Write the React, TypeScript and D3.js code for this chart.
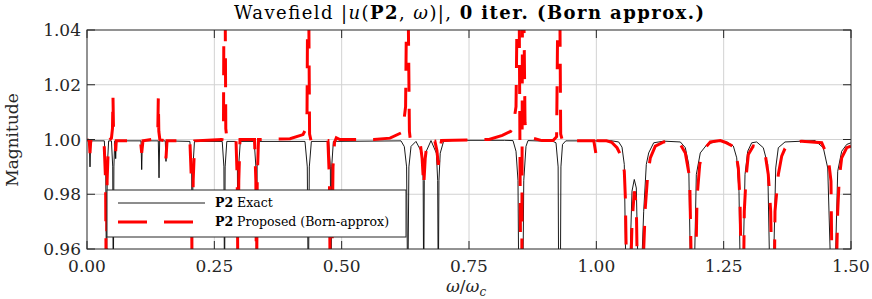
import React, { useEffect, useRef } from 'react'
import * as d3 from 'd3'

const xTicks = [0, 0.25, 0.5, 0.75, 1, 1.25, 1.5]
const yTicks = [0.96, 0.98, 1.0, 1.02, 1.04]
const xTickLabels = ['0.00', '0.25', '0.50', '0.75', '1.00', '1.25', '1.50']
const yTickLabels = ['0.96', '0.98', '1.00', '1.02', '1.04']

// exact |u(P2,w)|, pairs of [w/wc, magnitude]
const exact: [number, number][] = [
  [0, 1.0], [0.0045, 0.9995], [0.0059, 0.99], [0.0073, 0.9995],
  [0.034, 0.9995], [0.0368, 0.99], [0.0383, 0.94], [0.0398, 0.99], [0.0425, 0.9995],
  [0.048, 0.9995], [0.0505, 0.99], [0.0516, 0.94], [0.0528, 0.99], [0.0545, 0.9995],
  [0.0555, 0.9995], [0.0563, 0.993], [0.0573, 0.9995],
  [0.106, 0.9995], [0.1074, 0.989], [0.1088, 0.9995],
  [0.14, 0.9995], [0.1414, 0.986], [0.1427, 0.9995],
  [0.1537, 0.9995], [0.1551, 0.992], [0.1565, 0.9995],
  [0.202, 0.9993], [0.2055, 0.99], [0.2067, 0.94], [0.208, 0.99], [0.211, 0.9993],
  [0.2655, 0.9993], [0.2688, 0.99], [0.27, 0.94], [0.2712, 0.99], [0.2745, 0.9993],
  [0.292, 0.9993], [0.2953, 0.99], [0.2965, 0.94], [0.2977, 0.99], [0.301, 0.9993],
  [0.3283, 0.9993], [0.3316, 0.99], [0.3328, 0.94], [0.334, 0.99], [0.3373, 0.9993],
  [0.428, 0.9993], [0.4325, 0.99], [0.4345, 0.94], [0.4365, 0.99], [0.4405, 0.9993],
  [0.4745, 0.9993], [0.4778, 0.99], [0.4791, 0.94], [0.4804, 0.99], [0.4837, 0.9993],
  [0.6165, 0.9995], [0.623, 0.9974], [0.6275, 0.99], [0.6297, 0.94], [0.632, 0.99], [0.6362, 0.9975],
  [0.6459, 0.9993], [0.658, 0.995], [0.66, 0.985], [0.6611, 0.94], [0.6622, 0.985], [0.6645, 0.995],
  [0.6754, 0.9996], [0.686, 0.995], [0.6885, 0.985], [0.6897, 0.94], [0.691, 0.985], [0.6935, 0.995],
  [0.7, 0.9993], [0.72, 0.9997],
  [0.82, 0.9997], [0.8364, 0.9996], [0.8423, 0.9957], [0.8462, 0.985], [0.848, 0.94],
  [0.8555, 0.94], [0.8575, 0.985], [0.8619, 0.9975], [0.8658, 0.9996],
  [0.915, 0.9993], [0.9208, 0.9988], [0.925, 0.99], [0.9262, 0.94], [0.9292, 0.94], [0.9305, 0.99],
  [0.9336, 0.9982], [0.94, 0.9995],
  [1.0013, 0.9995], [1.0274, 0.9996], [1.0439, 0.9991], [1.0504, 0.9972], [1.0549, 0.9909],
  [1.0588, 0.94], [1.0635, 0.94], [1.07, 0.9811], [1.0745, 0.9854], [1.0785, 0.9823],
  [1.0832, 0.94], [1.0863, 0.94], [1.093, 0.9738], [1.0981, 0.9909], [1.1028, 0.9951],
  [1.1126, 0.9988], [1.1323, 0.9994], [1.1649, 0.9991], [1.1747, 0.997], [1.1814, 0.9909],
  [1.1859, 0.94], [1.1912, 0.94], [1.1963, 0.9872], [1.2041, 0.9951], [1.2173, 0.9982],
  [1.2369, 0.9994], [1.2566, 0.9991], [1.269, 0.9976], [1.2756, 0.9933], [1.2801, 0.9811],
  [1.2835, 0.94], [1.2866, 0.94], [1.2919, 0.9872], [1.2972, 0.9957], [1.305, 0.9988],
  [1.3148, 0.9991], [1.3278, 0.997], [1.3364, 0.9909], [1.3416, 0.94], [1.3463, 0.94],
  [1.3522, 0.9896], [1.3573, 0.997], [1.3704, 0.9991], [1.4293, 0.9996], [1.4456, 0.997],
  [1.4543, 0.9896], [1.4621, 0.94], [1.4672, 0.94], [1.4739, 0.9884], [1.4817, 0.9957],
  [1.4916, 0.9982], [1.5, 0.9988],
]

// proposed (Born approx.) |u(P2,w)|
const proposed: [number, number][] = [
  [0, 1.0], [0.0045, 0.9995], [0.0059, 0.995], [0.0073, 0.9995],
  [0.0334, 0.9995], [0.0365, 0.985], [0.0379, 0.94], [0.0395, 0.985], [0.0422, 0.9995],
  [0.048, 1.0005], [0.05, 1.004], [0.051, 1.0158], [0.052, 1.004], [0.0535, 1.0],
  [0.0555, 0.9995], [0.0563, 0.9957], [0.0575, 0.9995],
  [0.105, 0.9995], [0.1074, 0.9951], [0.1099, 0.9995],
  [0.137, 1.0003], [0.139, 1.003], [0.14, 1.0152], [0.141, 1.003], [0.143, 1.0],
  [0.1531, 0.9995], [0.1551, 0.9931], [0.1571, 0.9995],
  [0.202, 0.9995], [0.205, 0.985], [0.2067, 0.94], [0.2085, 0.985], [0.2115, 0.9995],
  [0.265, 1.0], [0.268, 1.006], [0.269, 1.06], [0.271, 1.06], [0.2725, 1.004], [0.2749, 1.0],
  [0.2925, 1.0], [0.295, 0.985], [0.2965, 0.94], [0.298, 0.985], [0.3004, 1.0],
  [0.3289, 1.0], [0.3315, 0.985], [0.3328, 0.94], [0.3342, 0.985], [0.3367, 1.0],
  [0.3986, 1.0003], [0.4241, 1.0018], [0.43, 1.004], [0.432, 1.01], [0.4335, 1.06],
  [0.435, 1.06], [0.437, 1.002], [0.4398, 0.9996], [0.4477, 0.9996],
  [0.473, 0.9996], [0.476, 0.985], [0.4777, 0.94], [0.48, 0.94], [0.483, 0.99],
  [0.486, 0.999], [0.4895, 1.0006], [0.4967, 1.0],
  [0.5635, 1.0], [0.5949, 1.0005], [0.6165, 1.0024], [0.62, 1.0035], [0.6255, 1.012],
  [0.628, 1.06], [0.63, 1.06], [0.633, 1.003], [0.635, 0.9995], [0.645, 0.9993],
  [0.654, 0.999], [0.658, 0.993], [0.6611, 0.983], [0.664, 0.993], [0.668, 0.9993],
  [0.683, 0.9994], [0.687, 0.996], [0.6897, 0.9907], [0.6925, 0.996], [0.696, 0.9996],
  [0.7893, 1.0], [0.8154, 1.0015], [0.8319, 1.003], [0.8364, 1.0045], [0.8423, 1.012],
  [0.8452, 1.06], [0.8482, 1.06], [0.8517, 0.94], [0.8535, 0.94], [0.8551, 1.06],
  [0.857, 1.06], [0.86, 1.006], [0.8619, 1.0035], [0.8743, 1.0005], [0.8933, 0.9996],
  [0.915, 0.9996], [0.922, 1.001], [0.925, 1.06], [0.928, 1.06], [0.93, 1.002],
  [0.9336, 0.9995], [0.96, 0.9995],
  [0.995, 0.9995], [0.9995, 0.9945], [1.0013, 0.994], [1.003, 0.9995], [1.02, 0.9995],
  [1.03, 0.999], [1.0406, 0.997], [1.0504, 0.9933], [1.0549, 0.9884], [1.057, 0.9787],
  [1.0602, 0.94], [1.066, 0.94], [1.07, 0.9689], [1.0745, 0.9811], [1.0785, 0.9762],
  [1.0815, 0.94], [1.0863, 0.94], [1.092, 0.955], [1.0961, 0.975], [1.1009, 0.9872],
  [1.106, 0.9933], [1.1158, 0.9976], [1.1323, 0.9991], [1.1452, 0.9994], [1.1649, 0.9982],
  [1.1747, 0.9951], [1.1833, 0.986], [1.1878, 0.94], [1.194, 0.94], [1.1977, 0.9787],
  [1.203, 0.9909], [1.2108, 0.9963], [1.2238, 0.9991], [1.2434, 0.9996], [1.2526, 0.999],
  [1.2723, 0.9972], [1.2788, 0.9896], [1.2821, 0.9775], [1.2854, 0.94], [1.2885, 0.94],
  [1.2905, 0.9738], [1.2939, 0.986], [1.2984, 0.9945], [1.3082, 0.9976], [1.318, 0.9972],
  [1.3311, 0.9951], [1.3376, 0.9872], [1.3423, 0.9738], [1.3455, 0.94], [1.349, 0.94],
  [1.3508, 0.9738], [1.3573, 0.9872], [1.3639, 0.9939], [1.3704, 0.9967], [1.3836, 0.9988],
  [1.4032, 0.9994], [1.4425, 0.9988], [1.4554, 0.9933], [1.4607, 0.9848], [1.4633, 0.94],
  [1.47, 0.94], [1.4739, 0.9738], [1.477, 0.986], [1.4817, 0.9933], [1.4916, 0.997],
  [1.5, 0.9976],
]

const FONT = '"DejaVu Serif", "Liberation Serif", serif'
const AXIS = '#262626'

export default function App() {
  const ref = useRef<SVGSVGElement>(null)

  useEffect(() => {
    const svg = d3.select(ref.current)
    svg.selectAll('*').remove()

    const left = 87, right = 851, top = 30, bottom = 249
    const x = d3.scaleLinear().domain([0, 1.5]).range([left, right])
    const y = d3.scaleLinear().domain([0.96, 1.04]).range([bottom, top])

    svg.append('rect').attr('width', 872).attr('height', 299).attr('fill', '#fff')

    svg.append('defs').append('clipPath').attr('id', 'plotArea')
      .append('rect')
      .attr('x', left).attr('y', top)
      .attr('width', right - left).attr('height', bottom - top)

    // grid
    const grid = svg.append('g').attr('stroke', '#d2d2d2').attr('stroke-width', 1)
    xTicks.slice(1, -1).forEach(t => {
      grid.append('line').attr('x1', x(t)).attr('x2', x(t)).attr('y1', top).attr('y2', bottom)
    })
    yTicks.slice(1, -1).forEach(t => {
      grid.append('line').attr('x1', left).attr('x2', right).attr('y1', y(t)).attr('y2', y(t))
    })

    // series
    const line = d3.line<[number, number]>().x(d => x(d[0])).y(d => y(d[1]))
    const plot = svg.append('g').attr('clip-path', 'url(#plotArea)')
    plot.append('path')
      .attr('d', line(exact))
      .attr('fill', 'none').attr('stroke', '#000').attr('stroke-width', 0.9)
    plot.append('path')
      .attr('d', line(proposed))
      .attr('fill', 'none').attr('stroke', '#ff0000').attr('stroke-width', 3)
      .attr('stroke-dasharray', '29,17')

    // box and ticks
    const ax = svg.append('g').attr('stroke', AXIS).attr('stroke-width', 1)
    ax.append('rect')
      .attr('x', left).attr('y', top).attr('width', right - left).attr('height', bottom - top)
      .attr('fill', 'none')
    xTicks.forEach(t => {
      ax.append('line').attr('x1', x(t)).attr('x2', x(t)).attr('y1', bottom).attr('y2', bottom - 8)
      ax.append('line').attr('x1', x(t)).attr('x2', x(t)).attr('y1', top).attr('y2', top + 8)
    })
    yTicks.forEach(t => {
      ax.append('line').attr('x1', left).attr('x2', left + 8).attr('y1', y(t)).attr('y2', y(t))
      ax.append('line').attr('x1', right).attr('x2', right - 8).attr('y1', y(t)).attr('y2', y(t))
    })

    const labels = svg.append('g').attr('font-family', FONT).attr('font-size', 17).attr('fill', '#262626')
    xTicks.forEach((t, i) => {
      labels.append('text').attr('x', x(t)).attr('y', 272).attr('text-anchor', 'middle').text(xTickLabels[i])
    })
    yTicks.forEach((t, i) => {
      labels.append('text').attr('x', 81).attr('y', y(t) + 6).attr('text-anchor', 'end').text(yTickLabels[i])
    })

    labels.append('text')
      .attr('transform', 'translate(18,140) rotate(-90)')
      .attr('text-anchor', 'middle')
      .text('Magnitude')

    const xl = labels.append('text').attr('x', 466).attr('y', 292).attr('text-anchor', 'middle')
    xl.append('tspan').attr('font-style', 'italic').text('ω')
    xl.append('tspan').text('/')
    xl.append('tspan').attr('font-style', 'italic').text('ω')
    xl.append('tspan').attr('font-style', 'italic').attr('font-size', 12).attr('dy', 4).text('c')

    // title
    const title = svg.append('text')
      .attr('x', 469).attr('y', 19).attr('text-anchor', 'middle')
      .attr('font-family', FONT).attr('font-size', 18).attr('fill', '#000')
      .attr('textLength', 470).attr('lengthAdjust', 'spacing')
    title.append('tspan').text('Wavefield |')
    title.append('tspan').attr('font-style', 'italic').text('u')
    title.append('tspan').text('(')
    title.append('tspan').attr('font-weight', 'bold').text('P2')
    title.append('tspan').text(', ')
    title.append('tspan').attr('font-style', 'italic').text('ω')
    title.append('tspan').text(')|, ')
    title.append('tspan').attr('font-weight', 'bold').text('0 iter.  (Born approx.)')

    // legend
    const lg = svg.append('g')
    lg.append('rect')
      .attr('x', 107).attr('y', 190).attr('width', 299).attr('height', 47)
      .attr('fill', '#fff').attr('stroke', AXIS).attr('stroke-width', 1)
    lg.append('line').attr('x1', 118).attr('x2', 205).attr('y1', 203).attr('y2', 203)
      .attr('stroke', '#000').attr('stroke-width', 0.9)
    lg.append('line').attr('x1', 118).attr('x2', 195).attr('y1', 222).attr('y2', 222)
      .attr('stroke', '#ff0000').attr('stroke-width', 3).attr('stroke-dasharray', '29,17')
    const legendText = ['Exact', 'Proposed (Born-approx)']
    legendText.forEach((s, i) => {
      const t = lg.append('text').attr('x', 215).attr('y', 207 + i * 19)
        .attr('font-family', FONT).attr('font-size', 12.5).attr('fill', '#000')
      t.append('tspan').attr('font-weight', 'bold').text('P2')
      t.append('tspan').text(' ' + s)
    })
  }, [])

  return <svg ref={ref} width={872} height={299} style={{ position: 'absolute', left: 0, top: 0 }} />
}
